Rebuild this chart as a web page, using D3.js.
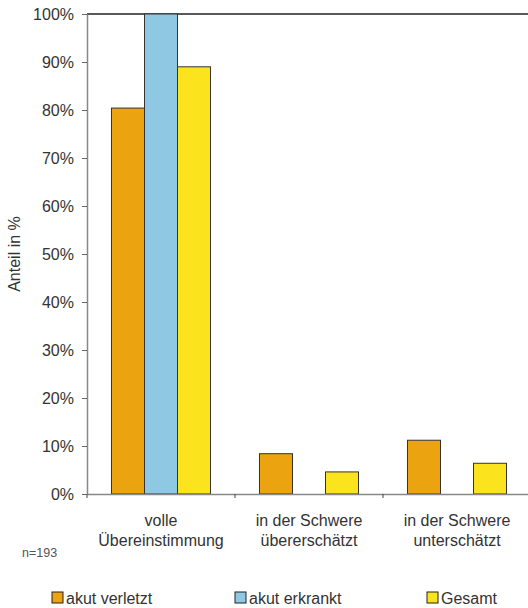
<!DOCTYPE html>
<html><head><meta charset="utf-8">
<script src="https://cdn.jsdelivr.net/npm/d3@7"></script>
<style>
html,body{margin:0;padding:0;background:#fff;}
svg{display:block;font-family:"Liberation Sans",Arial,Helvetica,sans-serif;}
</style></head>
<body><svg id="c" width="528" height="608"></svg>
<script>
const categories = [["volle","Übereinstimmung"],["in der Schwere","übererschätzt"],["in der Schwere","unterschätzt"]];
const seriesNames = ["akut verletzt","akut erkrankt","Gesamt"];
const akutVerletzt = [0.804, 0.084, 0.112];
const akutErkrankt = [1.0, 0, 0];
const gesamt = [0.890, 0.046, 0.064];
const colors = ["#EBA40F","#8EC8E3","#FBE41E"];
const yTicks = [0,0.1,0.2,0.3,0.4,0.5,0.6,0.7,0.8,0.9,1.0];
const yTitle = "Anteil in %";
const note = "n=193";

(function(){
const values = [akutVerletzt, akutErkrankt, gesamt];
const svg = d3.select("#c");
const pL = 87, pR = 531, pT = 14, pB = 494;
const catKeys = categories.map((c,i)=>i);

const x = d3.scaleBand().domain(catKeys).range([pL,pR]).paddingInner(0).paddingOuter(0);
const x1 = d3.scaleBand().domain(seriesNames).range([0,x.bandwidth()]).paddingInner(0).paddingOuter(0.742);
const y = d3.scaleLinear().domain([0,1]).range([pB,pT]);

// top border line
svg.append("line").attr("x1",pL).attr("x2",pR).attr("y1",y(1)).attr("y2",y(1))
  .attr("stroke","#222").attr("stroke-width",1.6);

// bars
const data = [];
catKeys.forEach(ci=>seriesNames.forEach((s,si)=>{
  if(values[si][ci] > 0) data.push({ci, s, si, v: values[si][ci]});
}));
svg.append("g").selectAll("rect").data(data).join("rect")
  .attr("x",d=>x(d.ci)+x1(d.s))
  .attr("y",d=>y(d.v))
  .attr("width",x1.bandwidth())
  .attr("height",d=>y(0)-y(d.v))
  .attr("fill",d=>colors[d.si])
  .attr("stroke","#333").attr("stroke-width",1);

// y axis
const yAxis = svg.append("g").attr("transform",`translate(${pL},0)`)
  .call(d3.axisLeft(y).tickValues(yTicks).tickFormat(d3.format(".0%")).tickSize(5).tickSizeOuter(0).tickPadding(8));
yAxis.select(".domain").attr("stroke","#888").attr("stroke-width",1.5);
yAxis.selectAll(".tick line").attr("stroke","#666");
yAxis.selectAll(".tick text").attr("fill","#333").style("font-size","16px")
  .style("font-family","'Liberation Sans',Arial,sans-serif");

// x axis
const xAxis = svg.append("g").attr("transform",`translate(0,${pB})`)
  .call(d3.axisBottom(x).tickSize(0).tickFormat(""));
xAxis.select(".domain").attr("stroke","#888").attr("stroke-width",1.5);
const bounds = catKeys.map(c=>x(c)).concat([x(catKeys[catKeys.length-1])+x.bandwidth()]);
svg.append("g").selectAll("line").data(bounds).join("line")
  .attr("x1",d=>d).attr("x2",d=>d).attr("y1",pB).attr("y2",pB+4)
  .attr("stroke","#444").attr("stroke-width",1);

// category labels
const cl = svg.append("g").selectAll("text").data(categories).join("text")
  .attr("text-anchor","middle").attr("fill","#333").style("font-size","16px")
  .attr("transform",(d,i)=>`translate(${x(i)+x.bandwidth()/2},0)`);
cl.selectAll("tspan").data(d=>d).join("tspan")
  .attr("x",0).attr("y",(d,j)=>525.5 + j*20).text(d=>d);

// y title
svg.append("text").attr("transform",`translate(20,${(pT+pB)/2}) rotate(-90)`)
  .attr("text-anchor","middle").attr("fill","#333").style("font-size","16px").text(yTitle);

// note
svg.append("text").attr("x",22).attr("y",557).attr("fill","#555").style("font-size","12.5px").text(note);

// legend
const legX = [52, 235, 427];
const lg = svg.append("g").selectAll("g").data(seriesNames).join("g")
  .attr("transform",(d,i)=>`translate(${legX[i]},592)`);
lg.append("rect").attr("width",11).attr("height",11).attr("fill",(d,i)=>colors[i])
  .attr("stroke","#222").attr("stroke-width",1);
lg.append("text").attr("x",14).attr("y",11.5).attr("fill","#333").style("font-size","16px").text(d=>d);
})();
</script>
</body></html>
